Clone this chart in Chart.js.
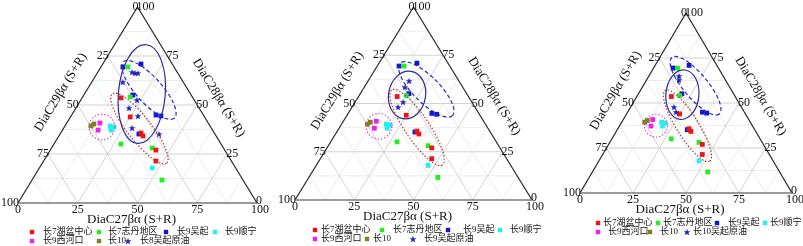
<!DOCTYPE html>
<html>
<head>
<meta charset="utf-8">
<script src="https://cdn.jsdelivr.net/npm/chart.js@4.4.0/dist/chart.umd.min.js"></script>
<style>
  html, body { margin: 0; padding: 0; background: #fff; }
  #wrap { position: relative; width: 803px; height: 246px; }
  #wrap canvas { position: absolute; left: 0; top: 0; }
</style>
</head>
<body>
<div id="wrap">
  <canvas id="panel1" width="803" height="246"></canvas>
  <canvas id="panel2" width="803" height="246"></canvas>
  <canvas id="panel3" width="803" height="246"></canvas>
</div>
<script>
// every point is [DiaC27βα, DiaC28βα] in %, DiaC29βα is the rest to 100
const seriesNames = ["长7湖盆中心", "长7志丹地区", "长9吴起", "长9顺宁", "长9西河口", "长10"];
const ch7Hupen = [[16.3, 53.6], [25.0, 43.9], [33.6, 35.7], [35.2, 34.2], [44.2, 27.0], [47.0, 21.4]];
const ch7Zhidan = [[11.3, 69.4], [19.9, 54.1], [28.0, 30.1], [42.1, 28.1], [54.4, 11.7]];
const ch9Wuqi = [[9.2, 69.4], [16.0, 70.9], [20.5, 55.1], [35.3, 44.9], [37.6, 44.4], [33.0, 35.2]];
const ch9Shunning = [[18.9, 39.3], [20.8, 38.8], [20.3, 37.2], [47.2, 17.9]];
const ch9Xihekou = [[13.9, 40.8], [14.9, 37.2]];
const ch10 = [[10.9, 39.3], [11.6, 40.3]];

// crude oils, one set per panel
const oilNames = ["长8吴起原油", "长9吴起原油", "长10吴起原油"];
const oilCh8 = [[14.3, 66.8], [15.8, 66.3], [17.0, 66.3], [13.0, 61.7], [23.5, 52.6],
                [22.2, 48.5], [28.0, 44.4], [28.6, 38.3], [41.4, 35.2]];
const oilCh9 = [[17.3, 61.7], [17.1, 58.5], [20.2, 50.8], [19.4, 48.2]];
const oilCh10 = [[14.2, 65.0], [15.3, 62.8], [20.4, 47.8], [22.8, 45.0]];

// tick labels
const bottomTicks = [0, 25, 50, 75, 100];   // DiaC27, left to right
const leftTicks = [0, 25, 50, 75, 100];     // DiaC29, apex to bottom
const rightTicks = [100, 75, 50, 25, 0];    // DiaC28, apex to bottom
const axisTitles = ["DiaC27βα (S+R)", "DiaC29βα (S+R)", "DiaC28βα (S+R)"];

const colors = ["#f01414", "#22ee22", "#1414d8", "#22f0f0", "#f020f0", "#80801a"];
const starColor = "#2222c0";
const SERIF = "'Liberation Serif', 'Noto Sans CJK SC', serif";

function starImage(color, r) {
    const c = document.createElement("canvas");
    const s = Math.ceil(r * 2 + 2);
    c.width = c.height = s;
    const g = c.getContext("2d");
    g.fillStyle = color;
    g.beginPath();
    for (let i = 0; i < 10; i++) {
        const rad = i % 2 ? r * 0.42 : r;
        const a = -Math.PI / 2 + i * Math.PI / 5;
        g.lineTo(s / 2 + rad * Math.cos(a), s / 2 + rad * Math.sin(a) + 0.4);
    }
    g.closePath();
    g.fill();
    return c;
}
const starPoint = starImage(starColor, 3.6);

// ternary -> cartesian (x along base, y = DiaC28)
const toXY = (p) => ({ x: p[0] + p[1] / 2, y: p[1] });

// ellipses: centre in cartesian units, semi axes in base units, angle in degrees
const panels = [
    {
        id: "panel1", tri: { left: 18, right: 257, top: 7, bottom: 203 },
        oil: oilCh8, oilName: oilNames[0],
        ellipses: [
            { cx: 51.8, cy: 55.6, a: 20.7, b: 9.8, ang: 95, color: "#2a2aa0", dash: [] },
            { cx: 54.8, cy: 57.7, a: 15.9, b: 5.4, ang: 48, color: "#2a2ab0", dash: [4, 2.5] },
            { cx: 50.8, cy: 38.0, a: 18.4, b: 5.0, ang: 52, color: "#b03a3a", dash: [1.5, 1.8] },
            { cx: 35.1, cy: 38.8, a: 5.4, b: 5.4, ang: 0, color: "#cc55cc", dash: [1.5, 1.8] }
        ],
        legend: { rows: [232, 241],
            items: [[32, 43, 0], [99, 108, 1], [166, 177, 2], [215, 225, 3]],
            items2: [[32, 43, 4], [99, 108, 5], [128, 140, -1]] }
    },
    {
        id: "panel2", tri: { left: 295, right: 532, top: 7, bottom: 200 },
        oil: oilCh9, oilName: oilNames[1],
        ellipses: [
            { cx: 47.3, cy: 54.4, a: 10.1, b: 7.8, ang: 100, color: "#2a2aa0", dash: [] },
            { cx: 55.4, cy: 57.3, a: 15.6, b: 5.5, ang: 45, color: "#2a2ab0", dash: [4, 2.5] },
            { cx: 51.5, cy: 37.6, a: 19.1, b: 5.1, ang: 56, color: "#b03a3a", dash: [1.5, 1.8] },
            { cx: 35.4, cy: 38.2, a: 5.4, b: 5.4, ang: 0, color: "#cc55cc", dash: [1.5, 1.8] }
        ],
        legend: { rows: [230, 239],
            items: [[315, 321, 0], [382, 393, 1], [448, 463, 2], [500, 510, 3]],
            items2: [[315, 321, 4], [367, 373, 5], [413, 424, -1]] }
    },
    {
        id: "panel3", tri: { left: 580, right: 792, top: 13, bottom: 193 },
        oil: oilCh10, oilName: oilNames[2],
        ellipses: [
            { cx: 48.3, cy: 54.6, a: 11.7, b: 7.8, ang: 95, color: "#2a2aa0", dash: [] },
            { cx: 54.5, cy: 59.6, a: 17.4, b: 5.7, ang: 50, color: "#2a2ab0", dash: [4, 2.5] },
            { cx: 50.7, cy: 37.3, a: 19.7, b: 5.2, ang: 58, color: "#b03a3a", dash: [1.5, 1.8] },
            { cx: 35.8, cy: 37.4, a: 5.4, b: 5.4, ang: 0, color: "#cc55cc", dash: [1.5, 1.8] }
        ],
        legend: { rows: [223, 232],
            items: [[598, 603, 0], [658, 663, 1], [717, 728, 2], [765, 770, 3]],
            items2: [[598, 608, 4], [650, 660, 5], [687, 693, -1]] }
    }
];

const ternaryPlugin = {
    id: "ternary",
    beforeDatasetsDraw(chart) {
        const ctx = chart.ctx;
        const xs = chart.scales.x, ys = chart.scales.y;
        const T = (c27, c28) => [xs.getPixelForValue(c27 + c28 / 2), ys.getPixelForValue(c28)];
        const line = (p, q) => { ctx.beginPath(); ctx.moveTo(p[0], p[1]); ctx.lineTo(q[0], q[1]); ctx.stroke(); };

        ctx.save();
        ctx.lineWidth = 1;
        for (let k = 1; k < 8; k++) {
            const v = k * 12.5;
            ctx.strokeStyle = k % 2 ? "#ececec" : "#d2d2d2";
            line(T(0, v), T(100 - v, v));
            line(T(v, 0), T(v, 100 - v));
            line(T(100 - v, 0), T(0, 100 - v));
        }
        const bl = T(0, 0), br = T(100, 0), ap = T(0, 100);
        ctx.strokeStyle = "#222";
        ctx.lineWidth = 1.2;
        line(bl, ap);
        line(ap, br);
        ctx.strokeStyle = "#7a7a7a";
        ctx.lineWidth = 1.6;
        line(bl, br);

        // tick labels
        ctx.fillStyle = "#111";
        ctx.font = "12px " + SERIF;
        ctx.textBaseline = "middle";
        for (let i = 0; i < 5; i++) {
            const c28 = 100 - i * 25;
            const le = T(0, c28), re = T(100 - c28, c28);
            ctx.textAlign = "right";
            ctx.fillText(String(leftTicks[i]), le[0] + 1, le[1]);
            ctx.textAlign = "left";
            ctx.fillText(String(rightTicks[i]), re[0] - 1, i === 4 ? re[1] - 2 : re[1]);
        }
        ctx.textAlign = "center";
        bottomTicks.forEach((v) => {
            const p = T(v, 0);
            ctx.fillText(String(v), v === 100 ? p[0] + 3 : p[0], p[1] + 7);
        });

        // axis titles
        ctx.font = "13px " + SERIF;
        ctx.fillStyle = "#111";
        ctx.fillText(axisTitles[0], (bl[0] + br[0]) / 2 - 6, bl[1] + 17);
        const drawEdgeTitle = (p, q, text, out, shift, nSign) => {
            const dx = q[0] - p[0], dy = q[1] - p[1];
            const len = Math.hypot(dx, dy);
            const ux = dx / len, uy = dy / len;
            const nx = nSign * uy, ny = -nSign * ux;
            const mx = (p[0] + q[0]) / 2 + nx * out + ux * shift;
            const my = (p[1] + q[1]) / 2 + ny * out + uy * shift;
            ctx.save();
            ctx.translate(mx, my);
            ctx.rotate(Math.atan2(dy, dx));
            ctx.fillText(text, 0, 0);
            ctx.restore();
        };
        drawEdgeTitle(bl, ap, axisTitles[1], 21, 2, 1);
        drawEdgeTitle(ap, br, axisTitles[2], 22, 5, 1);
        ctx.restore();
    },
    afterDatasetsDraw(chart, args, opts) {
        const ctx = chart.ctx;
        const xs = chart.scales.x, ys = chart.scales.y;
        const unit = (xs.getPixelForValue(100) - xs.getPixelForValue(0)) / 100;
        ctx.save();
        opts.ellipses.forEach((e) => {
            ctx.beginPath();
            ctx.strokeStyle = e.color;
            ctx.lineWidth = 1.2;
            ctx.setLineDash(e.dash);
            ctx.ellipse(xs.getPixelForValue(e.cx), ys.getPixelForValue(e.cy),
                e.a * unit, e.b * unit, e.ang * Math.PI / 180, 0, Math.PI * 2);
            ctx.stroke();
        });
        ctx.restore();
    },
    afterDraw(chart, args, opts) {
        const ctx = chart.ctx;
        const lg = opts.legend;
        ctx.save();
        ctx.font = "9px " + SERIF;
        ctx.textBaseline = "middle";
        ctx.textAlign = "left";
        const drawItem = (it, y) => {
            const [mx, tx, idx] = it;
            if (idx < 0) {
                ctx.drawImage(starPoint, mx - starPoint.width / 2, y - starPoint.height / 2);
                ctx.fillStyle = "#111";
                ctx.fillText(opts.oilName, tx, y);
            } else {
                ctx.fillStyle = colors[idx];
                ctx.fillRect(mx - 2.2, y - 2.2, 4.4, 4.4);
                ctx.fillStyle = "#111";
                ctx.fillText(seriesNames[idx], tx, y);
            }
        };
        lg.items.forEach((it) => drawItem(it, lg.rows[0]));
        lg.items2.forEach((it) => drawItem(it, lg.rows[1]));
        ctx.restore();
    }
};

function makePanel(cfg) {
    const rock = [ch7Hupen, ch7Zhidan, ch9Wuqi, ch9Shunning, ch9Xihekou, ch10];
    const datasets = [{
        label: cfg.oilName,
        data: cfg.oil.map(toXY),
        pointStyle: starPoint,
        pointRadius: 4
    }];
    rock.forEach((arr, i) => {
        datasets.push({
            label: seriesNames[i],
            data: arr.map(toXY),
            pointStyle: "rect",
            pointRadius: 3.4,
            backgroundColor: colors[i],
            borderColor: colors[i],
            borderWidth: 0
        });
    });
    new Chart(document.getElementById(cfg.id), {
        type: "scatter",
        data: { datasets: datasets },
        options: {
            responsive: false,
            animation: false,
            events: [],
            layout: {
                padding: {
                    left: cfg.tri.left,
                    right: 803 - cfg.tri.right,
                    top: cfg.tri.top,
                    bottom: 246 - cfg.tri.bottom
                }
            },
            scales: {
                x: { type: "linear", min: 0, max: 100, display: false },
                y: { type: "linear", min: 0, max: 100, display: false }
            },
            plugins: {
                legend: { display: false },
                tooltip: { enabled: false },
                ternary: { ellipses: cfg.ellipses, legend: cfg.legend, oilName: cfg.oilName }
            }
        },
        plugins: [ternaryPlugin]
    });
}

panels.forEach(makePanel);
</script>
</body>
</html>
